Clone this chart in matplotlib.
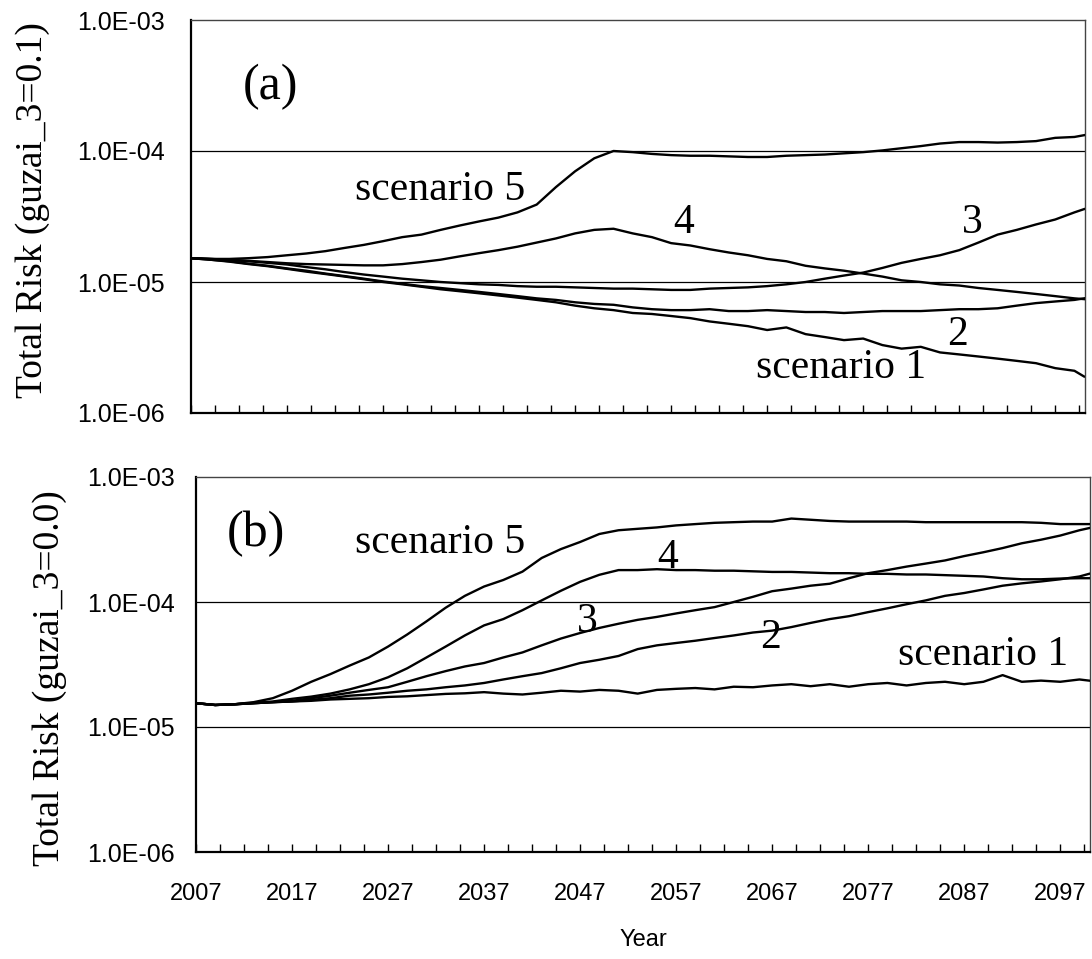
import matplotlib
matplotlib.use('Agg')
import matplotlib.pyplot as plt
from matplotlib.ticker import NullLocator

# sampling years (every 2 years, last point at the right edge)
years = list(range(2007, 2100, 2)) + [2100]

# panel (a): guzai_3 = 0.1, values in units of 1e-5
a_s1 = [1.52, 1.48, 1.43, 1.37, 1.32, 1.26, 1.20, 1.15, 1.10, 1.05,
        1.00, 0.96, 0.92, 0.88, 0.85, 0.82, 0.79, 0.76, 0.73, 0.70,
        0.66, 0.63, 0.61, 0.58, 0.57, 0.55, 0.53, 0.50, 0.48, 0.46,
        0.43, 0.45, 0.40, 0.38, 0.36, 0.37, 0.33, 0.31, 0.32, 0.29,
        0.28, 0.27, 0.26, 0.25, 0.24, 0.22, 0.21, 0.19]
a_s2 = [1.52, 1.48, 1.44, 1.38, 1.33, 1.27, 1.22, 1.16, 1.11, 1.06,
        1.01, 0.97, 0.93, 0.90, 0.87, 0.84, 0.81, 0.78, 0.75, 0.73,
        0.70, 0.68, 0.67, 0.64, 0.62, 0.61, 0.61, 0.62, 0.60, 0.60,
        0.61, 0.60, 0.59, 0.59, 0.58, 0.59, 0.60, 0.60, 0.60, 0.61,
        0.62, 0.62, 0.63, 0.66, 0.69, 0.71, 0.73, 0.75]
a_s3 = [1.52, 1.50, 1.47, 1.44, 1.40, 1.36, 1.30, 1.25, 1.19, 1.14,
        1.10, 1.06, 1.03, 1.00, 0.98, 0.96, 0.95, 0.93, 0.92, 0.92,
        0.91, 0.90, 0.89, 0.89, 0.88, 0.87, 0.87, 0.89, 0.90, 0.91,
        0.93, 0.96, 1.00, 1.06, 1.12, 1.18, 1.28, 1.40, 1.50, 1.60,
        1.75, 2.00, 2.30, 2.50, 2.75, 3.00, 3.40, 3.60]
a_s4 = [1.52, 1.50, 1.48, 1.45, 1.42, 1.39, 1.37, 1.36, 1.35, 1.34,
        1.34, 1.37, 1.42, 1.48, 1.57, 1.66, 1.75, 1.86, 2.00, 2.15,
        2.35, 2.50, 2.55, 2.35, 2.20, 1.98, 1.90, 1.78, 1.68, 1.60,
        1.50, 1.44, 1.33, 1.27, 1.22, 1.16, 1.10, 1.03, 1.00, 0.96,
        0.94, 0.90, 0.87, 0.84, 0.81, 0.78, 0.75, 0.74]
a_s5 = [1.52, 1.50, 1.50, 1.52, 1.55, 1.60, 1.65, 1.72, 1.82, 1.92,
        2.05, 2.20, 2.30, 2.50, 2.70, 2.90, 3.10, 3.40, 3.90, 5.30,
        7.00, 8.80, 10.0, 9.80, 9.50, 9.30, 9.20, 9.20, 9.10, 9.00,
        9.00, 9.20, 9.30, 9.40, 9.60, 9.80, 10.1, 10.5, 10.9, 11.4,
        11.7, 11.7, 11.6, 11.7, 11.9, 12.6, 12.8, 13.2]

# panel (b): guzai_3 = 0.0, values in units of 1e-5
b_s1 = [1.55, 1.50, 1.52, 1.55, 1.58, 1.60, 1.62, 1.66, 1.68, 1.70,
        1.74, 1.76, 1.80, 1.84, 1.86, 1.90, 1.85, 1.82, 1.88, 1.95,
        1.92, 1.98, 1.95, 1.85, 1.98, 2.02, 2.05, 2.00, 2.10, 2.08,
        2.15, 2.20, 2.12, 2.20, 2.10, 2.20, 2.25, 2.15, 2.25, 2.30,
        2.20, 2.30, 2.60, 2.30, 2.35, 2.30, 2.40, 2.35]
b_s2 = [1.55, 1.50, 1.52, 1.55, 1.58, 1.60, 1.65, 1.70, 1.78, 1.82,
        1.88, 1.95, 2.00, 2.08, 2.15, 2.25, 2.40, 2.55, 2.70, 2.95,
        3.25, 3.45, 3.70, 4.20, 4.50, 4.70, 4.90, 5.15, 5.40, 5.70,
        5.90, 6.30, 6.80, 7.30, 7.70, 8.30, 8.90, 9.60, 10.3, 11.2,
        11.8, 12.6, 13.5, 14.1, 14.6, 15.2, 16.0, 16.8]
b_s3 = [1.55, 1.50, 1.52, 1.55, 1.58, 1.62, 1.70, 1.78, 1.88, 1.98,
        2.08, 2.30, 2.55, 2.80, 3.05, 3.25, 3.60, 3.95, 4.50, 5.10,
        5.65, 6.20, 6.70, 7.20, 7.60, 8.10, 8.60, 9.10, 10.0, 11.0,
        12.2, 12.8, 13.5, 14.0, 15.5, 17.0, 18.0, 19.2, 20.3, 21.5,
        23.3, 25.0, 27.0, 29.5, 31.5, 34.0, 37.5, 39.0]
b_s4 = [1.55, 1.50, 1.52, 1.56, 1.60, 1.68, 1.75, 1.85, 2.00, 2.20,
        2.50, 2.95, 3.60, 4.40, 5.40, 6.50, 7.30, 8.60, 10.3, 12.3,
        14.5, 16.5, 18.0, 18.0, 18.3, 18.0, 18.0, 17.8, 17.8, 17.6,
        17.4, 17.4, 17.2, 17.0, 17.0, 16.8, 16.8, 16.6, 16.6, 16.4,
        16.2, 16.0, 15.5, 15.2, 15.2, 15.4, 15.5, 15.5]
b_s5 = [1.55, 1.50, 1.52, 1.58, 1.70, 1.95, 2.30, 2.65, 3.10, 3.60,
        4.40, 5.50, 7.00, 9.00, 11.2, 13.3, 15.0, 17.5, 22.5, 26.5,
        30.2, 35.0, 37.5, 38.5, 39.5, 41.0, 42.0, 43.0, 43.5, 44.0,
        44.0, 46.5, 45.5, 44.5, 44.0, 44.0, 44.0, 44.0, 43.5, 43.5,
        43.5, 43.5, 43.5, 43.5, 43.0, 42.0, 42.0, 42.0]

y_ticks = [1e-6, 1e-5, 1e-4, 1e-3]
y_labels = ['1.0E-06', '1.0E-05', '1.0E-04', '1.0E-03']
x_ticks = [2007 + 2.5 * k for k in range(38)]
x_labels = [str(int(t)) if k % 4 == 0 else '' for k, t in enumerate(x_ticks)]

SERIF = 'Liberation Serif'
SANS = 'Liberation Sans'


def style_axis(ax, ypad, show_xlabels):
    ax.set_yscale('log')
    ax.set_ylim(1e-6, 1e-3)
    ax.set_xlim(2007, 2100.1)
    ax.set_yticks(y_ticks, labels=y_labels, fontsize=18, fontfamily=SANS)
    ax.yaxis.set_minor_locator(NullLocator())
    ax.tick_params(axis='y', which='both', length=0, pad=ypad)
    if show_xlabels:
        ax.set_xticks(x_ticks, labels=x_labels, fontsize=17, fontfamily=SANS)
    else:
        ax.set_xticks(x_ticks, labels=[''] * len(x_ticks))
    ax.tick_params(axis='x', direction='in', length=6, width=1, pad=22)
    for y in [1e-5, 1e-4]:
        ax.axhline(y, color='black', lw=0.9, zorder=1)
    ax.spines['left'].set_linewidth(1.6)
    ax.spines['bottom'].set_linewidth(1.6)
    ax.spines['top'].set_linewidth(1.0)
    ax.spines['right'].set_linewidth(1.0)
    ax.spines['top'].set_color('#444444')
    ax.spines['right'].set_color('#444444')


def draw_series(ax, series):
    for s in series:
        ax.plot(years, [v * 1e-5 for v in s], color='black', lw=1.7, zorder=3)


fig = plt.figure(figsize=(10.92, 9.59), dpi=100)
ax_a = fig.add_axes([191 / 1092, 546 / 959, 894 / 1092, 393 / 959])
ax_b = fig.add_axes([196 / 1092, 107 / 959, 894 / 1092, 375 / 959])

draw_series(ax_a, [a_s1, a_s2, a_s3, a_s4, a_s5])
draw_series(ax_b, [b_s1, b_s2, b_s3, b_s4, b_s5])

style_axis(ax_a, 19, False)
style_axis(ax_b, 15, True)

# annotations, panel (a)
ax_a.text(2012.4, 3.1e-4, '(a)', fontsize=36, family=SERIF, ha='left', va='center')
ax_a.text(2024.1, 4.23e-5, 'scenario 5', fontsize=30, family=SERIF, ha='left', va='baseline')
ax_a.text(2058.3, 2.37e-5, '4', fontsize=30, family=SERIF, ha='center', va='baseline')
ax_a.text(2088.4, 2.37e-5, '3', fontsize=30, family=SERIF, ha='center', va='baseline')
ax_a.text(2086.8, 3.3e-6, '2', fontsize=30, family=SERIF, ha='center', va='baseline')
ax_a.text(2065.8, 1.85e-6, 'scenario 1', fontsize=30, family=SERIF, ha='left', va='baseline')

# annotations, panel (b)
ax_b.text(2010.2, 3.5e-4, '(b)', fontsize=36, family=SERIF, ha='left', va='center')
ax_b.text(2023.6, 2.47e-4, 'scenario 5', fontsize=30, family=SERIF, ha='left', va='baseline')
ax_b.text(2056.1, 1.87e-4, '4', fontsize=30, family=SERIF, ha='center', va='baseline')
ax_b.text(2047.8, 5.75e-5, '3', fontsize=30, family=SERIF, ha='center', va='baseline')
ax_b.text(2066.8, 4.28e-5, '2', fontsize=30, family=SERIF, ha='center', va='baseline')
ax_b.text(2080.1, 3.13e-5, 'scenario 1', fontsize=30, family=SERIF, ha='left', va='baseline')

fig.text(33 / 1092, 1 - 210 / 959, 'Total Risk (guzai_3=0.1)', fontsize=27, family=SERIF,
         rotation=90, ha='center', va='center')
fig.text(50 / 1092, 1 - 678 / 959, 'Total Risk (guzai_3=0.0)', fontsize=27, family=SERIF,
         rotation=90, ha='center', va='center')
fig.text(643 / 1092, 1 - 940 / 959, 'Year', fontsize=17, family=SANS, ha='center', va='center')

fig.savefig('out.png', dpi=100)
